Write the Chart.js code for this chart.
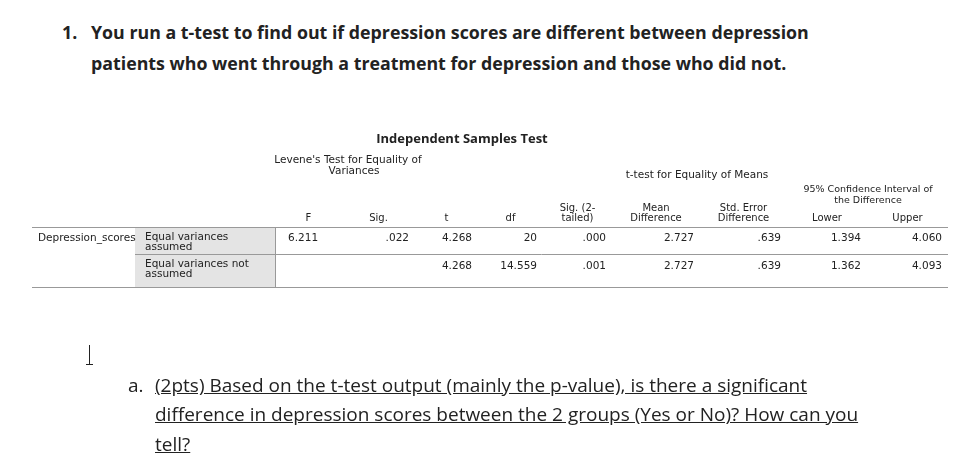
<!DOCTYPE html>
<html><head><meta charset="utf-8">
<script src="https://cdn.jsdelivr.net/npm/chart.js@4"></script>
<style>
body{margin:0;width:980px;height:470px;background:#fff;font-family:"Open Sans","Liberation Sans",sans-serif;position:relative;overflow:hidden;color:#111}
.q{position:absolute;font-weight:bold;font-size:17.8px;color:#222;white-space:nowrap}
.a{position:absolute;font-size:19px;color:#222;text-decoration:underline;white-space:nowrap}
#c{position:absolute;left:0;top:0}
</style></head><body>
<div class="q" style="left:62px;top:20px">1.</div>
<div class="q" style="left:91px;top:20px">You run a t-test to find out if depression scores are different between depression</div>
<div class="q" style="left:91px;top:51px">patients who went through a treatment for depression and those who did not.</div>
<canvas id="c" width="980" height="470"></canvas>
<div class="a" style="left:128px;top:372px;text-decoration:none">a.</div>
<div class="a" style="left:155px;top:372px">(2pts) Based on the t-test output (mainly the p-value), is there a significant</div>
<div class="a" style="left:155px;top:401px">difference in depression scores between the 2 groups (Yes or No)? How can you</div>
<div class="a" style="left:155px;top:431px">tell?</div>
<div style="position:absolute;left:89px;top:345px;width:1px;height:20px;background:#222"></div>
<div style="position:absolute;left:86px;top:364px;width:7px;height:1px;background:#222"></div>
<script>
var columns = ['F', 'Sig.', 't', 'df', 'Sig. (2-\ntailed)', 'Mean\nDifference', 'Std. Error\nDifference', 'Lower', 'Upper'];
var rowLabels = ['Equal variances\nassumed', 'Equal variances not\nassumed'];
var row1 = ['6.211', '.022', '4.268', '20', '.000', '2.727', '.639', '1.394', '4.060'];
var row2 = ['', '', '4.268', '14.559', '.001', '2.727', '.639', '1.362', '4.093'];
var colEdges = [275, 342, 415, 478, 543, 612, 700, 787, 867, 948];

// the table is painted by a plugin on an empty Chart.js canvas
var tablePlugin = {
  id: 'spssTable',
  afterDraw: function(chart) {
    var g = chart.ctx;
    g.save();
    g.fillStyle = '#222';
    g.font = 'bold 13px "Open Sans", sans-serif';
    g.textAlign = 'center';
    g.fillText('Independent Samples Test', 462, 143);
    g.font = '10.5px "DejaVu Sans", sans-serif';
    g.fillText("Levene's Test for Equality of", 348, 163);
    g.fillText('Variances', 354, 174);
    g.fillText('t-test for Equality of Means', 697, 178);
    g.font = '9.5px "DejaVu Sans", sans-serif';
    g.fillText('95% Confidence Interval of', 868, 192);
    g.fillText('the Difference', 868, 203);
    g.font = '10px "DejaVu Sans", sans-serif';
    columns.forEach(function(c, i) {
      var x = (colEdges[i] + colEdges[i + 1]) / 2;
      var lines = c.split('\n');
      lines.forEach(function(l, j) {
        g.fillText(l, x, 221 - (lines.length - 1 - j) * 10);
      });
    });
    g.fillStyle = '#e4e4e4';
    g.fillRect(135, 228, 140, 27);
    g.fillRect(135, 255, 140, 32);
    g.strokeStyle = '#999';
    g.lineWidth = 1;
    g.beginPath();
    g.moveTo(32, 227.5); g.lineTo(948, 227.5);
    g.moveTo(135, 254.5); g.lineTo(948, 254.5);
    g.moveTo(32, 287.5); g.lineTo(948, 287.5);
    g.moveTo(275.5, 228); g.lineTo(275.5, 287);
    g.stroke();
    g.fillStyle = '#222';
    g.font = '10.5px "DejaVu Sans", sans-serif';
    g.textAlign = 'left';
    g.fillText('Depression_scores', 38, 241);
    rowLabels.forEach(function(l, r) {
      l.split('\n').forEach(function(s, j) {
        g.fillText(s, 145, 240 + r * 27 + j * 10);
      });
    });
    g.textAlign = 'right';
    [row1, row2].forEach(function(row, r) {
      row.forEach(function(v, i) {
        if (i == 0) { g.textAlign = 'left'; g.fillText(v, 288, 241 + r * 28); g.textAlign = 'right'; return; }
        g.fillText(v, colEdges[i + 1] - 6, 241 + r * 28);
      });
    });
    g.restore();
  }
};

new Chart(document.getElementById('c'), {
  type: 'bar',
  data: { labels: [], datasets: [] },
  options: {
    responsive: false, animation: false,
    plugins: { legend: { display: false }, tooltip: { enabled: false } },
    scales: { x: { display: false }, y: { display: false } }
  },
  plugins: [tablePlugin]
});
</script>
</body></html>
